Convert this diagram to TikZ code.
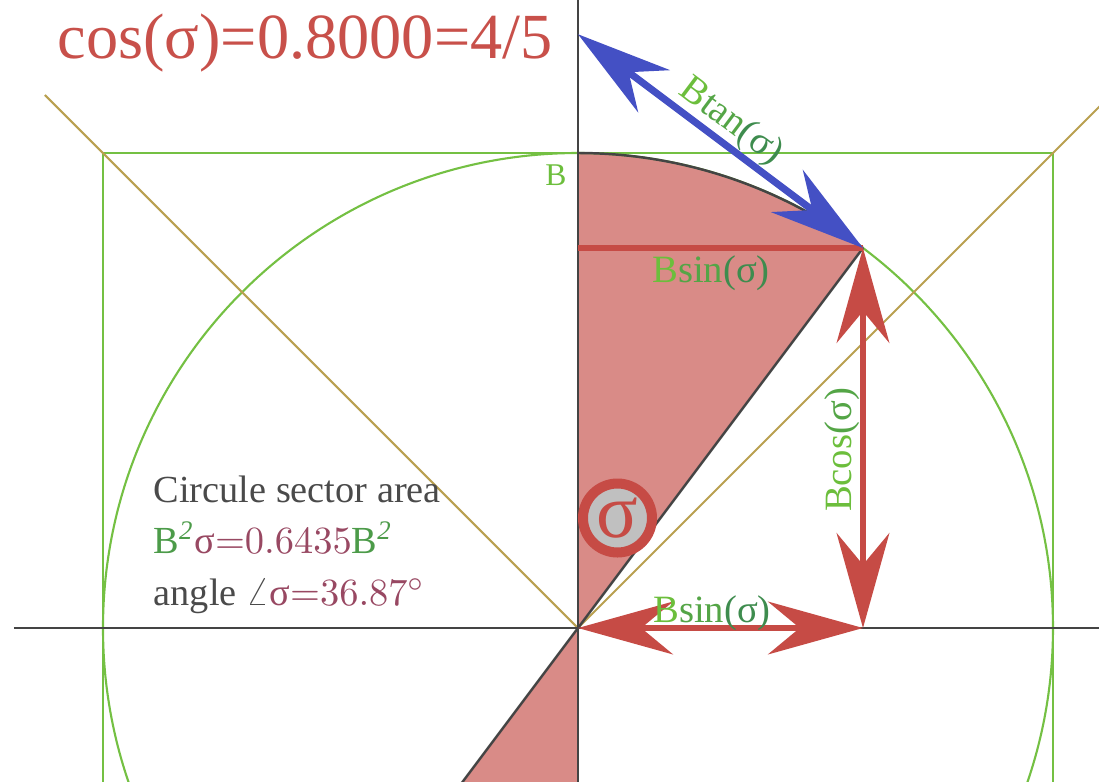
\documentclass[tikz,border=0pt]{standalone}
\usepackage[no-math]{fontspec}
\setmainfont{Liberation Serif}
\usetikzlibrary{arrows.meta}

\definecolor{titlered}{RGB}{200,80,74}
\definecolor{sectred}{RGB}{217,139,135}
\definecolor{arrred}{RGB}{198,75,69}
\definecolor{arrblue}{RGB}{68,80,196}
\definecolor{sqgreen}{RGB}{116,192,67}
\definecolor{lgreen}{RGB}{108,190,60}
\definecolor{mgreen}{RGB}{84,165,70}
\definecolor{dgreen}{RGB}{62,140,78}
\definecolor{goldline}{RGB}{185,160,80}
\definecolor{axisgray}{RGB}{68,68,68}
\definecolor{textgray}{RGB}{74,74,74}
\definecolor{maroon}{RGB}{152,72,98}
\definecolor{badgegray}{RGB}{192,192,192}

\begin{document}
\begin{tikzpicture}[line join=round,
  >={Stealth[length=27pt,width=15pt,inset=9pt]},
  redarrow/.style={draw=arrred, line width=1.8pt, <->},
  bluearrow/.style={draw=arrblue, line width=2pt, <->},
  lbl/.style={font=\fontsize{11}{13}\selectfont},
  infotext/.style={anchor=base west, inner sep=0pt, font=\fontsize{10.9}{13}\selectfont}]
  \useasboundingbox (-5.78,-1.53) rectangle (5.21,6.28);
  \clip (-5.78,-1.53) rectangle (5.21,6.28);

  % Points
  \coordinate (O) at (0,0);
  \coordinate (T) at (0,4.75);
  \coordinate (P) at (2.85,3.8);
  \coordinate (H) at (0,3.8);
  \coordinate (K) at (0,5.9375);
  \coordinate (Q) at (2.85,0);
  \coordinate (D) at (-1.2,-1.6);
  \coordinate (S) at (0,-1.6);

  % Shaded sector and lower triangle
  \fill[sectred] (O) -- (T) arc[start angle=90, end angle=53.13, radius=4.75] -- cycle;
  \fill[sectred] (O) -- (D) -- (S) -- cycle;

  % Circle, square and diagonals
  \draw[sqgreen, line width=0.6pt] (O) circle[radius=4.75];
  \draw[sqgreen, line width=0.6pt] (-4.75,-4.75) rectangle (4.75,4.75);
  \draw[goldline, line width=0.6pt] (-5.33,5.33) -- (O) -- (6.5,6.5);

  % Axes
  \draw[axisgray, line width=0.6pt] (-5.64,0) -- (5.4,0);
  \draw[axisgray, line width=0.6pt] (0,-1.6) -- (0,6.4);

  % Sector outline
  \draw[axisgray, line width=0.7pt] (T) arc[start angle=90, end angle=53.13, radius=4.75];
  \draw[axisgray, line width=0.7pt] (P) -- (D);

  % Sine line and arrows
  \draw[arrred, line width=1.8pt] (H) -- (P);
  \draw[redarrow] (P) -- (Q);
  \draw[redarrow] (O) -- (Q);
  \draw[bluearrow] (K) -- (P);

  % Angle badge
  \node[circle, draw=arrred, line width=2.85pt, fill=badgegray, minimum size=0.69cm,
        inner sep=0pt, text=arrred, font=\fontsize{22}{22}\selectfont] (sig) at (0.395,1.10) {σ};

  % Labels
  \node[anchor=base west, inner sep=0pt, text=titlered, font=\fontsize{18.3}{20}\selectfont] (title) at (-5.21,5.70) {cos(σ)=0.8000=4/5};
  \node[lbl, rotate=-36.87] (tanlbl) at (1.53,5.06) {\color{lgreen}B\color{mgreen}tan\color{dgreen}(σ)};
  \node[lbl, text=lgreen, font=\fontsize{9}{11}\selectfont] (blbl) at (-0.22,4.53) {B};
  \node[lbl, anchor=base] (sinup) at (1.33,3.46) {\color{lgreen}B\color{mgreen}sin\color{dgreen}(σ)};
  \node[lbl, anchor=base, rotate=90] (coslbl) at (2.74,1.78) {\color{lgreen}Bcos\color{mgreen}(σ)};
  \node[lbl, anchor=base] (sindown) at (1.34,0.06) {\color{lgreen}B\color{mgreen}sin\color{dgreen}(σ)};

  % Sector area note
  \node[infotext, text=textgray] (area) at (-4.25,1.26) {Circule sector area};
  \node[infotext] (areaval) at (-4.25,0.75) {\color{dgreen!70!lgreen}B\textsuperscript{\textit{2}}\color{maroon}σ${=}0.6435$\color{dgreen!70!lgreen}B\textsuperscript{\textit{2}}};
  \node[infotext] (angval) at (-4.25,0.23) {\color{textgray}angle $\angle$\color{maroon}σ${=}36.87^{\circ}$};
\end{tikzpicture}
\end{document}
